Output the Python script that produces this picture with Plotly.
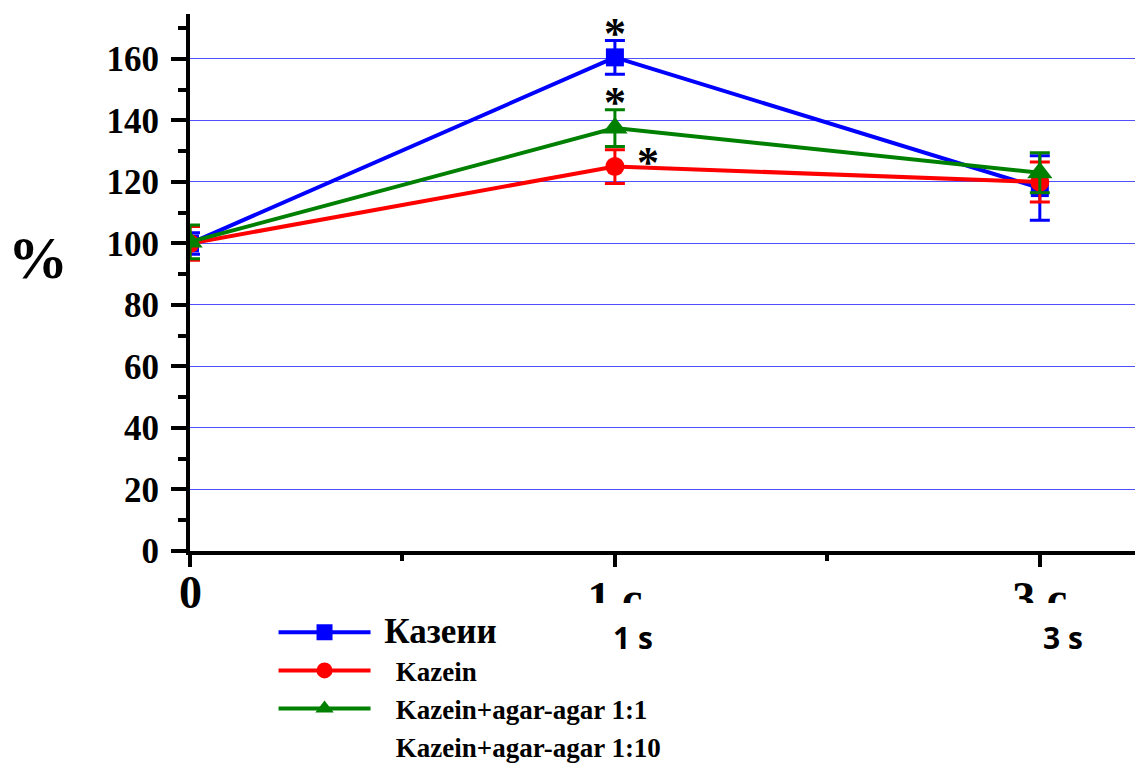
import plotly.graph_objects as go

# ---- data ----
x_pos = [0, 1, 2]
x_labels = ["0", "1 с", "3 с"]
x_labels_en = ["1 s", "3 s"]
series_names = ["Казеии", "Kazein", "Kazein+agar-agar 1:1", "Kazein+agar-agar 1:10"]
blue_y = [100, 160.5, 118]
blue_err = [3.5, 5.5, 10.5]
red_y = [100, 125, 120]
red_err = [5.5, 5.5, 6.5]
green_y = [100.5, 137.5, 123]
green_err = [5.5, 6, 6.5]
# significance marks (x, y)
star_x = [1, 1, 1.078]
star_y = [171, 148.3, 128.8]

SERIF = "Liberation Serif, Times New Roman, serif"
NB = "\u00a0"

fig = go.Figure()

def add_series(name, y, err, color, symbol, size):
    fig.add_trace(go.Scatter(
        x=x_pos, y=y, name=name, mode="lines+markers",
        line=dict(color=color, width=4),
        marker=dict(color=color, symbol=symbol, size=size),
        error_y=dict(type="data", array=err, visible=True, color=color,
                     thickness=3, width=10),
    ))

add_series("<span style='font-size:35px'>" + NB + series_names[0] + "</span>",
           blue_y, blue_err, "#0000ff", "square", 18)
add_series(NB * 3 + series_names[1], red_y, red_err, "#ff0000", "circle", 19)
add_series(NB * 3 + series_names[2], green_y, green_err, "#008000", "triangle-up", 22)
fig.add_trace(go.Scatter(x=[None], y=[None], name=NB * 3 + series_names[3], mode="lines",
                         line=dict(color="rgba(0,0,0,0)", width=4)))

for sx, sy in zip(star_x, star_y):
    fig.add_annotation(x=sx, y=sy, xref="x", yref="y", text="<b>*</b>",
                       showarrow=False, font=dict(family=SERIF, size=44, color="black"),
                       xanchor="center", yanchor="middle", yshift=-8)

# percent label
fig.add_annotation(x=-0.161, y=0.546, xref="paper", yref="paper", text="<b>%</b>",
                   showarrow=False, font=dict(family=SERIF, size=60, color="black"),
                   xanchor="center", yanchor="middle")
# "0" x label
fig.add_annotation(x=0, y=-0.077, xref="x", yref="paper", text="<b>" + x_labels[0] + "</b>",
                   showarrow=False, font=dict(family=SERIF, size=46, color="black"),
                   xanchor="center", yanchor="middle")
# english labels
for xv, t in zip([1.042, 2.054], x_labels_en):
    fig.add_annotation(x=xv, y=-0.162, xref="x", yref="paper", text="<b>" + t + "</b>",
                       showarrow=False, font=dict(family="Open Sans", size=30, color="black"),
                       xanchor="center", yanchor="middle")

# white mask clipping the bottom of the cyrillic tick labels
fig.add_shape(type="rect", xref="paper", yref="paper", x0=0.2, x1=1.0,
              y0=-0.16, y1=(551 - 603) / 537, fillcolor="white", line=dict(width=0),
              layer="above")

fig.update_layout(
    width=1135, height=767,
    margin=dict(l=190, r=0, t=14, b=216, autoexpand=False),
    plot_bgcolor="white", paper_bgcolor="white",
    showlegend=True,
    legend=dict(x=0.241, y=0.207, xref="container", yref="container",
                xanchor="left", yanchor="top",
                font=dict(family=SERIF, size=27, color="black", weight="bold"),
                bgcolor="rgba(0,0,0,0)", tracegroupgap=0, itemwidth=92),
    xaxis=dict(range=[0, 2.224], tickvals=x_pos, ticktext=["", x_labels[1], x_labels[2]],
               automargin=False,
               showgrid=False, zeroline=False, showline=True, linecolor="black", linewidth=4,
               ticks="outside", ticklen=12, tickwidth=4, tickcolor="black",
               ticklabelstandoff=-8,
               tickfont=dict(family=SERIF, size=46, color="black", weight="bold"),
               minor=dict(dtick=0.5, tick0=0, ticks="outside", ticklen=6, tickwidth=4,
                          tickcolor="black", showgrid=False)),
    yaxis=dict(range=[0, 174.6], tickvals=[0, 20, 40, 60, 80, 100, 120, 140, 160],
               automargin=False,
               showgrid=True, gridcolor="rgb(80,80,255)", gridwidth=1,
               zeroline=False, showline=True, linecolor="black", linewidth=4,
               ticks="outside", ticklen=15, tickwidth=4, tickcolor="black",
               ticklabelstandoff=5,
               tickfont=dict(family=SERIF, size=35, color="black", weight="bold"),
               minor=dict(dtick=10, tick0=0, ticks="outside", ticklen=8, tickwidth=4,
                          tickcolor="black", showgrid=False)),
)

fig.write_html("out.html", config={"displayModeBar": False},
               post_script="document.body.style.margin='0';")
